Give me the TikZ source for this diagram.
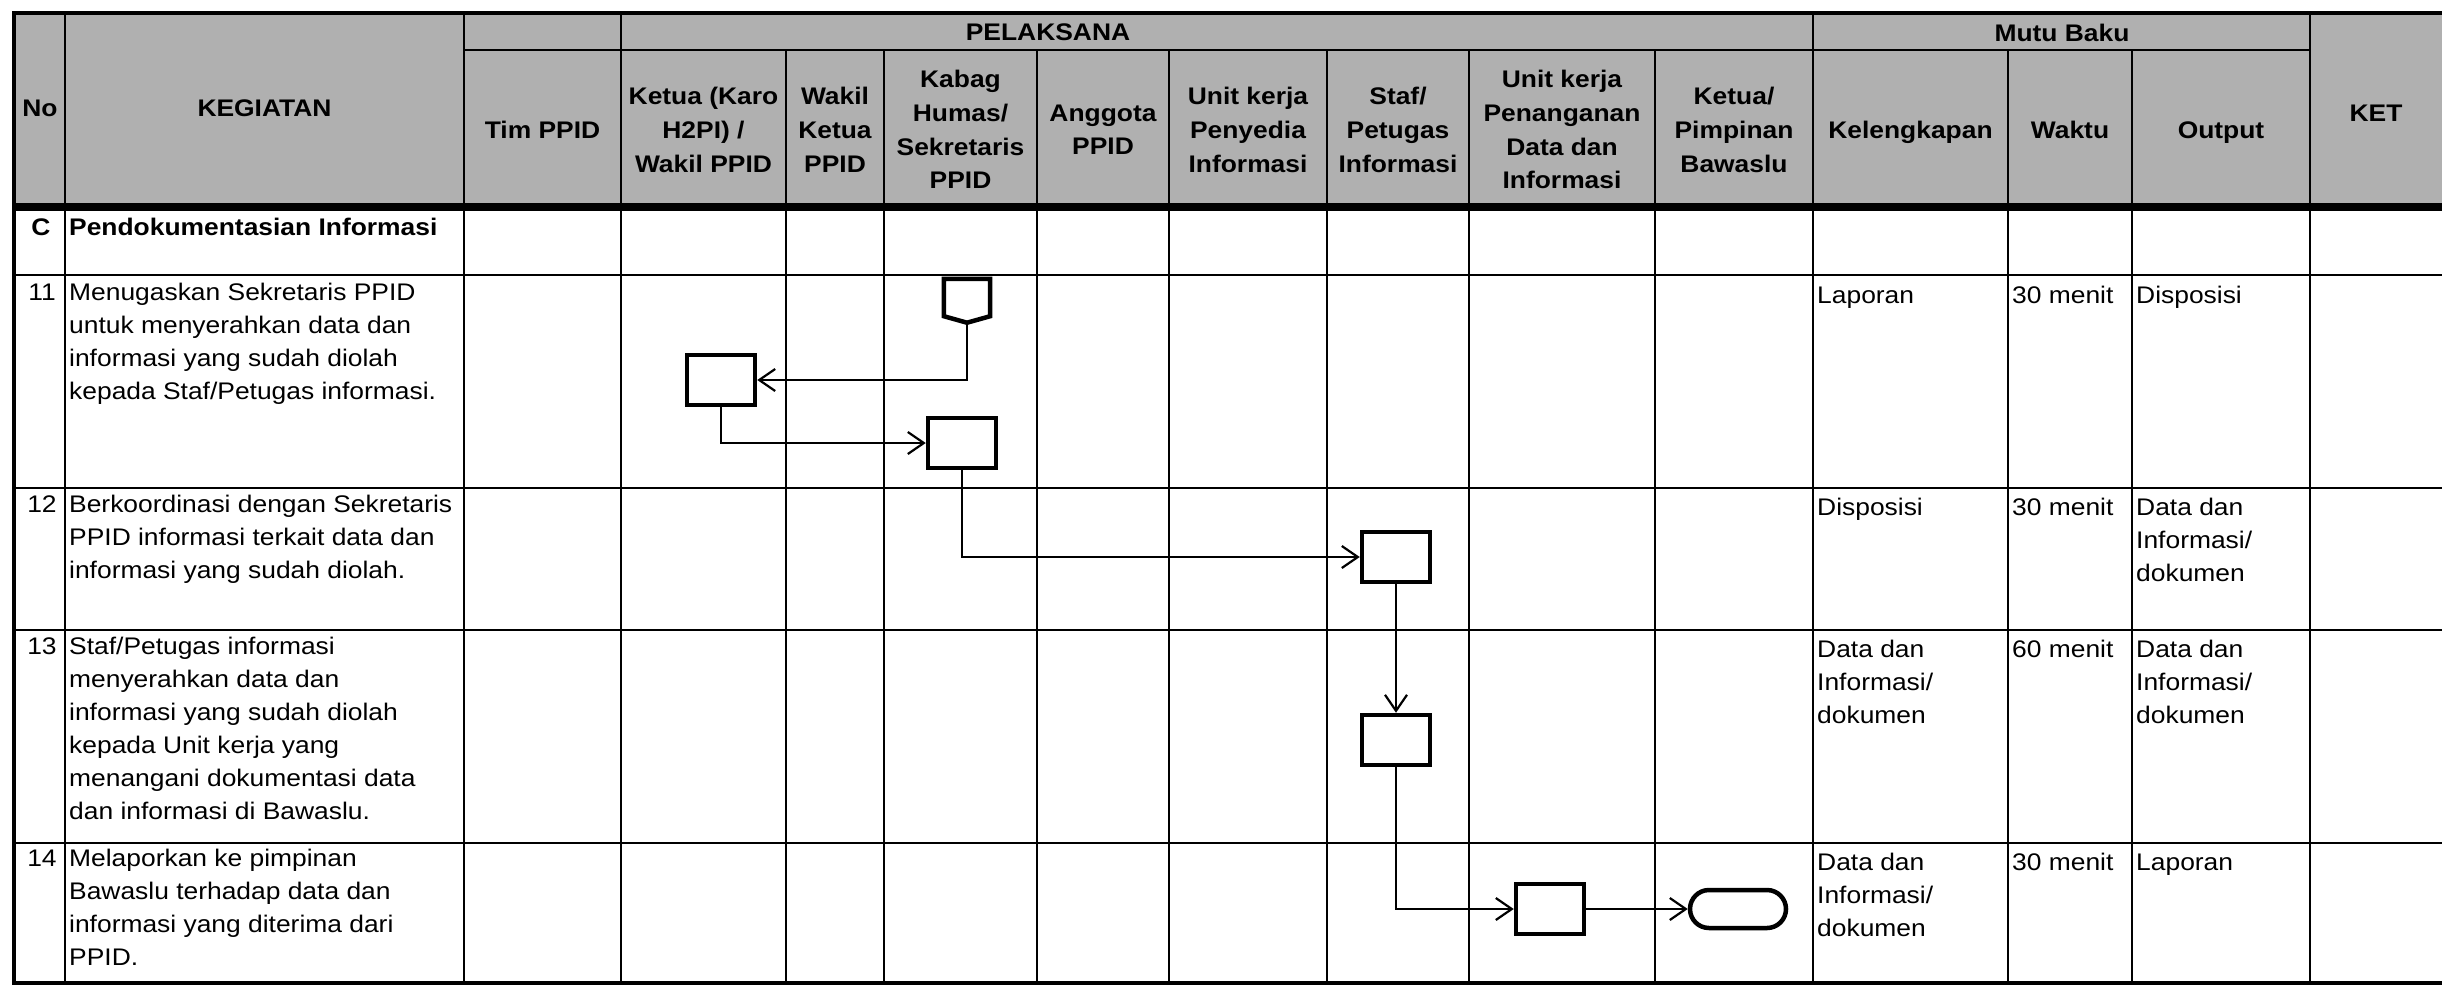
\documentclass[tikz,border=0pt]{standalone}
\usepackage{fontspec}
\setmainfont{Liberation Sans}[FakeStretch=1.1]
\usetikzlibrary{arrows.meta,shapes.misc}
\definecolor{hdrgray}{RGB}{176,176,176}
\newcommand{\fl}{\rule{0pt}{20pt}}
\begin{document}
\begin{tikzpicture}[x=1pt,y=-1pt,
  tline/.style={line width=2.4pt},
  bline/.style={line width=4pt},
  hdr/.style={font=\fontsize{24}{33.7}\selectfont\bfseries, align=center, inner sep=0pt, anchor=north},
  body/.style={font=\fontsize{24}{33}\selectfont, align=left, inner sep=0pt, anchor=north west},
  bodyb/.style={body, font=\fontsize{24}{33}\selectfont\bfseries},
  numtxt/.style={font=\fontsize{24}{33}\selectfont, inner sep=0pt, anchor=north},
  proc/.style={draw, line width=4.5pt, minimum width=68pt, minimum height=50pt, inner sep=0pt},
  term/.style={draw, rounded rectangle, line width=4.5pt, minimum width=96pt, minimum height=38pt, inner sep=0pt},
  flow/.style={line width=2.2pt, -{Straight Barb[length=16pt,width=22pt]}}
]
\useasboundingbox (0,0) rectangle (2442,986);
\fill[white] (0,0) rectangle (2442,986);
% header shading
\fill[hdrgray] (14,13) rectangle (2442,207);
% horizontal lines
\draw[bline] (12,13) -- (2442,13);
\draw[tline] (464,50) -- (2310,50);
\draw[line width=8pt] (12,207) -- (2442,207);
\foreach \yy in {275,488,630,843} \draw[tline] (14,\yy) -- (2442,\yy);
\draw[bline] (12,983) -- (2442,983);
% vertical lines
\draw[bline] (14,11) -- (14,985);
\foreach \xx in {65,464,621,1813,2310} \draw[tline] (\xx,13) -- (\xx,983);
\foreach \xx in {786,884,1037,1169,1327,1469,1655,2008,2132} \draw[tline] (\xx,50) -- (\xx,983);
% header texts
\node[hdr] (hNo) at (40,96) {\fl No};
\node[hdr] (hKeg) at (264.5,96) {\fl KEGIATAN};
\node[hdr] (hPel) at (1048,20) {\fl PELAKSANA};
\node[hdr] (hMutu) at (2062,21) {\fl Mutu Baku};
\node[hdr] (hKet) at (2376,101) {\fl KET};
\node[hdr] (hTim) at (542.5,118) {\fl Tim PPID};
\node[hdr] (hKetua) at (703.5,84.5) {\fl Ketua (Karo\\H2PI) /\\Wakil PPID};
\node[hdr] (hWakil) at (835,84.5) {\fl Wakil\\Ketua\\PPID};
\node[hdr] (hKabag) at (960.5,67.5) {\fl Kabag\\Humas/\\Sekretaris\\PPID};
\node[hdr] (hAng) at (1103,101) {\fl Anggota\\PPID};
\node[hdr] (hUnit) at (1248,84.5) {\fl Unit kerja\\Penyedia\\Informasi};
\node[hdr] (hStaf) at (1398,84.5) {\fl Staf/\\Petugas\\Informasi};
\node[hdr] (hUnitK) at (1562,67.5) {\fl Unit kerja\\Penanganan\\Data dan\\Informasi};
\node[hdr] (hKetB) at (1734,84.5) {\fl Ketua/\\Pimpinan\\Bawaslu};
\node[hdr] (hKel) at (1910.5,118) {\fl Kelengkapan};
\node[hdr] (hWaktu) at (2070,118) {\fl Waktu};
\node[hdr] (hOut) at (2221,118) {\fl Output};
% row C
\node[numtxt, font=\fontsize{24}{33}\selectfont\bfseries] (nC) at (41,215) {\fl C};
\node[bodyb] (tC) at (69,215) {\fl Pendokumentasian Informasi};
% row 11
\node[numtxt] (n11) at (42,280.5) {\fl 11};
\node[body] (t11) at (69,280.5) {\fl Menugaskan Sekretaris PPID\\untuk menyerahkan data dan\\informasi yang sudah diolah\\kepada Staf/Petugas informasi.};
\node[body] (k11) at (1817,283.5) {\fl Laporan};
\node[body] (w11) at (2012,283.5) {\fl 30 menit};
\node[body] (o11) at (2136,283.5) {\fl Disposisi};
% row 12
\node[numtxt] (n12) at (42,492.5) {\fl 12};
\node[body] (t12) at (69,492.5) {\fl Berkoordinasi dengan Sekretaris\\PPID informasi terkait data dan\\informasi yang sudah diolah.};
\node[body] (k12) at (1817,495.5) {\fl Disposisi};
\node[body] (w12) at (2012,495.5) {\fl 30 menit};
\node[body] (o12) at (2136,495.5) {\fl Data dan\\Informasi/\\dokumen};
% row 13
\node[numtxt] (n13) at (42,634) {\fl 13};
\node[body] (t13) at (69,634) {\fl Staf/Petugas informasi\\menyerahkan data dan\\informasi yang sudah diolah\\kepada Unit kerja yang\\menangani dokumentasi data\\dan informasi di Bawaslu.};
\node[body] (k13) at (1817,637.5) {\fl Data dan\\Informasi/\\dokumen};
\node[body] (w13) at (2012,637.5) {\fl 60 menit};
\node[body] (o13) at (2136,637.5) {\fl Data dan\\Informasi/\\dokumen};
% row 14
\node[numtxt] (n14) at (42,846) {\fl 14};
\node[body] (t14) at (69,846) {\fl Melaporkan ke pimpinan\\Bawaslu terhadap data dan\\informasi yang diterima dari\\PPID.};
\node[body] (k14) at (1817,850.5) {\fl Data dan\\Informasi/\\dokumen};
\node[body] (w14) at (2012,850.5) {\fl 30 menit};
\node[body] (o14) at (2136,850.5) {\fl Laporan};
% flow shapes
\node[inner sep=0pt, minimum width=46pt, minimum height=43.5pt] (P) at (967,300.75) {};
\draw[line width=4.5pt, line join=miter] (P.north west) -- (P.north east) -- ([yshift=6.5pt]P.south east) -- (P.south) -- ([yshift=6.5pt]P.south west) -- cycle;
\node[proc] (B1) at (721,380) {};
\node[proc] (B2) at (962,443) {};
\node[proc] (B3) at (1396,557) {};
\node[proc] (B4) at (1396,740) {};
\node[proc] (B5) at (1550,909) {};
\node[term] (T) at (1738,909) {};
% connectors
\draw[flow] (P.south) |- (B1.east);
\draw[flow] (B1.south) |- (B2.west);
\draw[flow] (B2.south) |- (B3.west);
\draw[flow] (B3.south) -- (B4.north);
\draw[flow] (B4.south) |- (B5.west);
\draw[flow] (B5.east) -- (T.west);
\end{tikzpicture}
\end{document}
